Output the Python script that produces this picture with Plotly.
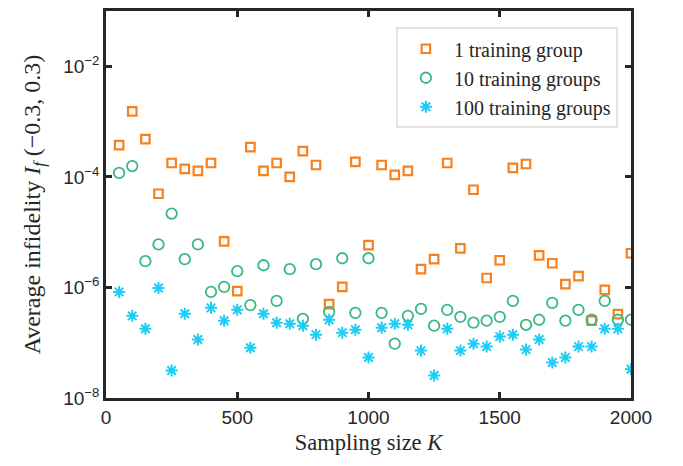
import plotly.graph_objects as go

K = [50 * i for i in range(1, 41)]

group1 = [3.76e-4, 1.53e-3, 4.8e-4, 4.95e-5, 1.78e-4, 1.39e-4, 1.28e-4, 1.78e-4, 6.8e-6, 8.6e-7,
          3.46e-4, 1.28e-4, 1.78e-4, 1.0e-4, 2.93e-4, 1.64e-4, 5.0e-7, 1.02e-6, 1.86e-4, 5.8e-6,
          1.64e-4, 1.09e-4, 1.28e-4, 2.14e-6, 3.24e-6, 1.78e-4, 5.1e-6, 5.85e-5, 1.48e-6, 3.1e-6,
          1.45e-4, 1.71e-4, 3.8e-6, 2.74e-6, 1.15e-6, 1.6e-6, 2.5e-7, 9.0e-7, 3.3e-7, 4.15e-6]

group10 = [1.18e-4, 1.57e-4, 2.98e-6, 6.0e-6, 2.17e-5, 3.24e-6, 6.0e-6, 8.3e-7, 1.02e-6, 1.97e-6,
           4.8e-7, 2.52e-6, 5.7e-7, 2.14e-6, 2.7e-7, 2.63e-6, 3.6e-7, 3.37e-6, 3.47e-7, 3.37e-6,
           3.47e-7, 9.6e-8, 3.06e-7, 4.1e-7, 2.03e-7, 3.93e-7, 2.94e-7, 2.3e-7, 2.5e-7, 2.94e-7,
           5.7e-7, 2.11e-7, 2.6e-7, 5.25e-7, 2.5e-7, 3.93e-7, 2.6e-7, 5.7e-7, 2.6e-7, 2.6e-7]

group100 = [8.3e-7, 3.06e-7, 1.79e-7, 9.75e-7, 3.15e-8, 3.33e-7, 1.14e-7, 4.27e-7, 2.5e-7, 3.93e-7,
            8.1e-8, 3.33e-7, 2.3e-7, 2.2e-7, 2.03e-7, 1.4e-7, 2.6e-7, 1.52e-7, 1.72e-7, 5.4e-8,
            1.87e-7, 2.2e-7, 2.11e-7, 7.2e-8, 2.56e-8, 1.79e-7, 7.2e-8, 9.6e-8, 8.5e-8, 1.29e-7,
            1.4e-7, 7.5e-8, 1.14e-7, 4.4e-8, 5.4e-8, 8.5e-8, 8.5e-8, 1.79e-7, 1.79e-7, 3.3e-8]

names = ["1 training group", "10 training groups", "100 training groups"]
x_ticks = [0, 500, 1000, 1500, 2000]
y_ticks = [1e-8, 1e-6, 1e-4, 1e-2]
y_ticktext = ["10<sup>\u22128</sup>", "10<sup>\u22126</sup>", "10<sup>\u22124</sup>", "10<sup>\u22122</sup>"]

orange = "#F7801F"
green = "#38B886"
cyan = "#1DCDF5"
serif = "Liberation Serif, Times New Roman"

fig = go.Figure()
fig.add_trace(go.Scatter(x=K, y=group1, mode="markers", name=names[0],
                         marker=dict(symbol="square-open", size=8.5, color=orange,
                                     line=dict(width=2.2, color=orange))))
fig.add_trace(go.Scatter(x=K, y=group10, mode="markers", name=names[1],
                         marker=dict(symbol="circle-open", size=10.5, color=green,
                                     line=dict(width=1.8, color=green))))
fig.add_trace(go.Scatter(x=K, y=group100, mode="markers", name=names[2],
                         marker=dict(symbol="asterisk-open", size=10, color=cyan,
                                     line=dict(width=2, color=cyan))))

axis_common = dict(showline=True, linewidth=2.5, linecolor="#262626", mirror="ticks",
                   ticks="inside", ticklen=6, tickwidth=2.5, tickcolor="#262626",
                   showgrid=False, zeroline=False,
                   tickfont=dict(family="Liberation Sans, Arial", size=19, color="#262626"))

fig.update_layout(
    width=683, height=466,
    margin=dict(l=106, r=52, t=8, b=68),
    paper_bgcolor="white", plot_bgcolor="white",
    xaxis=dict(range=[0, 2000], tickvals=x_ticks,
               title=dict(text="Sampling size <i>K</i>", standoff=8,
                          font=dict(family=serif, size=22.5, color="#262626")),
               **axis_common),
    yaxis=dict(type="log", range=[-8, -1], tickvals=y_ticks, ticktext=y_ticktext,
               title=dict(text="Average infidelity <i>I<sub>f</sub></i> (\u22120.3, 0.3)", standoff=16,
                          font=dict(family=serif, size=24, color="#262626")),
               **axis_common),
    legend=dict(x=0.975, y=0.958, xanchor="right", yanchor="top",
                bgcolor="white", bordercolor="#E3E3E3", borderwidth=2,
                font=dict(family=serif, size=20, color="#262626"),
                tracegroupgap=0, itemwidth=46),
    showlegend=True,
)

fig.write_html("out.html")
